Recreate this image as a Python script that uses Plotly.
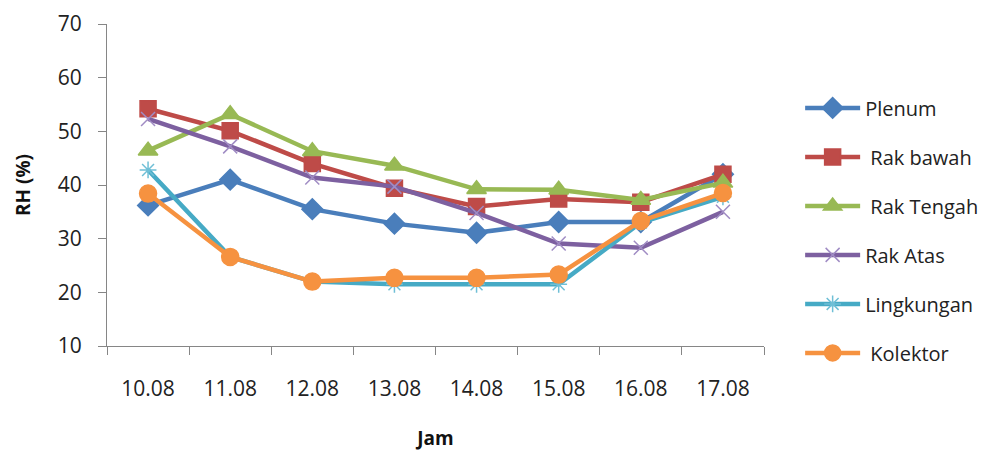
import plotly.graph_objects as go

jam = ["10.08", "11.08", "12.08", "13.08", "14.08", "15.08", "16.08", "17.08"]
plenum = [36.2, 41.0, 35.5, 32.8, 31.1, 33.1, 33.1, 42.0]
rak_bawah = [54.2, 50.1, 44.0, 39.4, 36.0, 37.4, 36.8, 42.0]
rak_tengah = [46.4, 53.2, 46.3, 43.6, 39.2, 39.1, 37.2, 40.4]
rak_atas = [52.3, 47.2, 41.4, 39.7, 34.8, 29.1, 28.3, 35.0]
lingkungan = [42.8, 26.6, 22.0, 21.5, 21.5, 21.5, 33.0, 37.8]
kolektor = [38.4, 26.6, 22.0, 22.7, 22.7, 23.3, 33.3, 38.5]
names = ["Plenum", "\u00a0Rak bawah", "\u00a0Rak Tengah", "Rak Atas", "Lingkungan", "\u00a0Kolektor"]

series = [
    (names[0], plenum, "#4A7EBB", "diamond", 16, "#4A7EBB"),
    (names[1], rak_bawah, "#BE4B48", "square", 16, "#BE4B48"),
    (names[2], rak_tengah, "#98B954", "triangle-up", 17, "#98B954"),
    (names[3], rak_atas, "#7D60A0", "x-thin-open", 14, "#A08CC4"),
    (names[4], lingkungan, "#46AAC5", "asterisk-open", 14, "#6FBFD6"),
    (names[5], kolektor, "#F69240", "circle", 17, "#F69240"),
]

fam = "Open Sans, Liberation Sans, sans-serif"
fig = go.Figure()
for i, (name, vals, col, sym, sz, mcol) in enumerate(series):
    fig.add_trace(go.Scatter(
        x=jam, y=vals, name=name, mode="lines+markers",
        line=dict(color=col, width=4.5),
        marker=dict(symbol=sym, size=sz, color=mcol,
                    line=dict(color=mcol, width=1.5)),
        legendgroup=str(i),
    ))

axis_font = dict(family=fam, size=21, color="#222")
fig.update_layout(
    width=998, height=455,
    margin=dict(l=99, r=242, t=16, b=117),
    paper_bgcolor="white", plot_bgcolor="white",
    showlegend=True,
    legend=dict(x=1.055, y=0.80, xanchor="left", yanchor="top",
                font=dict(family=fam, size=20, color="#222"),
                tracegroupgap=20, itemwidth=55, bgcolor="rgba(0,0,0,0)"),
    xaxis=dict(
        type="category", range=[-0.5, 7.5], tickson="boundaries",
        showline=True, linecolor="#868686", linewidth=1,
        ticks="outside", ticklen=8, tickcolor="#868686",
        showgrid=False, zeroline=False, tickfont=axis_font,
        ticklabelstandoff=24, automargin=False,
        title=dict(text="<b>Jam</b>", font=dict(family=fam, size=19, color="#111"), standoff=30),
    ),
    yaxis=dict(
        range=[10, 70], dtick=10, showline=True, linecolor="#868686", linewidth=1,
        ticks="outside", ticklen=8, tickcolor="#868686",
        showgrid=False, zeroline=False, tickfont=axis_font,
        ticklabelstandoff=12, automargin=False,
        title=dict(text="<b>RH (%)</b>", font=dict(family=fam, size=19, color="#111"), standoff=22),
    ),
)

fig.write_html("out.html")
